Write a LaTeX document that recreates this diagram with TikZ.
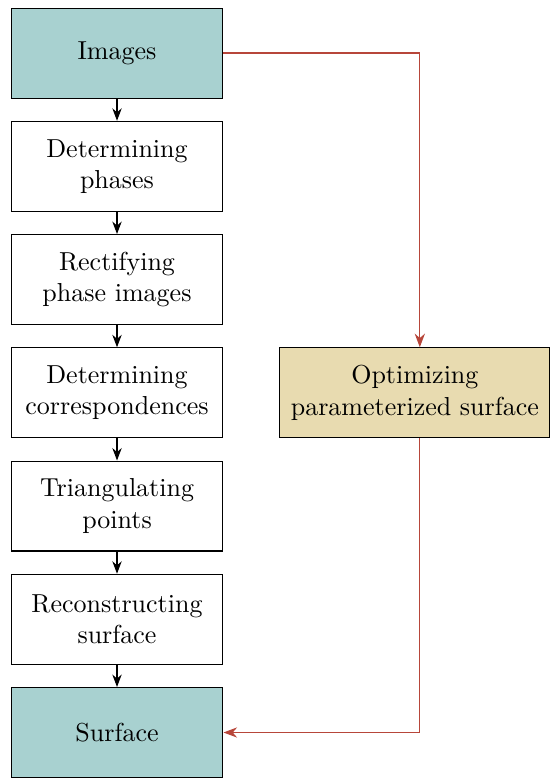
\documentclass[tikz,border=0pt]{standalone}
\usetikzlibrary{positioning,arrows.meta}
\definecolor{iofill}{RGB}{168,209,208}
\definecolor{optfill}{RGB}{232,219,176}
\definecolor{loopred}{RGB}{183,70,58}

\begin{document}
\begin{tikzpicture}[
  stepbox/.style = {
    draw,
    rectangle,
    fill = white,
    align = center,
    minimum width = 81.5pt,
    minimum height = 34.6pt,
  },
  iobox/.style = {
    stepbox,
    fill = iofill,
  },
  optbox/.style = {
    stepbox,
    fill = optfill,
    minimum width = 103.8pt,
  },
  feedback/.style = {
    ->,
    color = loopred,
    line width = 0.5pt,
  },
  >={Stealth},
  node distance = 8.55pt,
]

  \useasboundingbox (0,0) rectangle (211.5pt,-299.2pt);

  \node[iobox] (images) at (45pt,-20.4pt) {Images};
  \node[stepbox] (phases) [below=of images] {Determining\\phases};
  \node[stepbox] (rectify) [below=of phases] {Rectifying\\phase images};
  \node[stepbox] (corresp) [below=of rectify] {Determining\\correspondences};
  \node[stepbox] (triang) [below=of corresp] {Triangulating\\points};
  \node[stepbox] (recon) [below=of triang] {Reconstructing\\surface};
  \node[iobox] (surface) [below=of recon] {Surface};

  \node[optbox] (optim) [right=21.5pt of corresp] {Optimizing\\parameterized surface};

  \coordinate (optin) at ([xshift=1.9pt]optim.north);
  \coordinate (optout) at ([xshift=1.9pt]optim.south);

  \draw[->] (images) -- (phases);
  \draw[->] (phases) -- (rectify);
  \draw[->] (rectify) -- (corresp);
  \draw[->] (corresp) -- (triang);
  \draw[->] (triang) -- (recon);
  \draw[->] (recon) -- (surface);

  \draw[feedback] (images) -| (optin);
  \draw[feedback] (optout) |- (surface);

\end{tikzpicture}
\end{document}
